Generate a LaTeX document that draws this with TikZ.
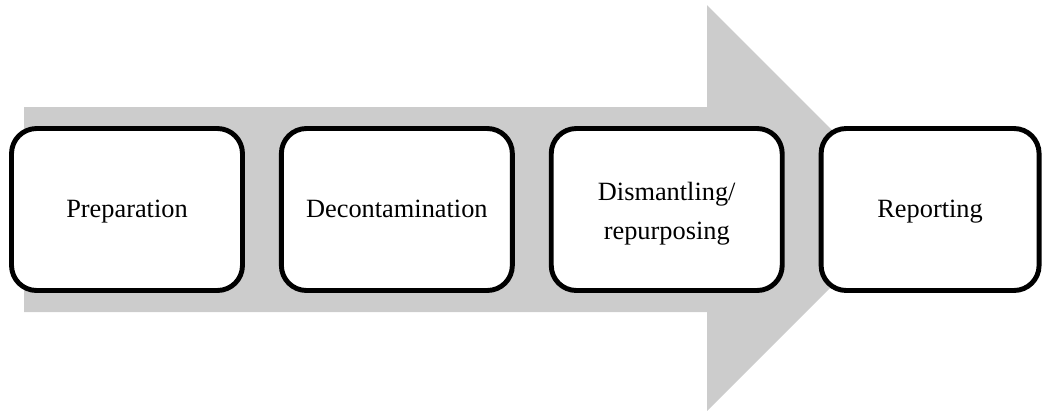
\documentclass[tikz,border=0pt]{standalone}
\usepackage{fontspec}
\setmainfont{Liberation Serif}
\usetikzlibrary{positioning}

\begin{document}
\begin{tikzpicture}[x=0.02cm, y=-0.02cm,
  stage/.style={draw, line width=2.8pt, rounded corners=0.5cm, fill=white,
    minimum width=4.62cm, minimum height=3.24cm, align=center,
    text height=2.5ex, text depth=.6ex,
    font=\fontsize{15}{22}\selectfont},
  node distance=0.68cm]
  \useasboundingbox (0,0) rectangle (1046,410);
  % the big arrow behind the stages
  \fill[black!20] (24,107) -- (707,107) -- (707,5) -- (910,208) -- (707,411) -- (707,312) -- (24,312) -- cycle;

  \node[stage] (prep) at (127,209.5) {Preparation};
  \node[stage, right=of prep] (decon) {Decontamination};
  \node[stage, right=of decon, text height=37.5pt, text depth=] (dism) {Dismantling/\\repurposing};
  \node[stage, right=of dism, minimum width=4.36cm] (report) {Reporting};

\end{tikzpicture}
\end{document}
